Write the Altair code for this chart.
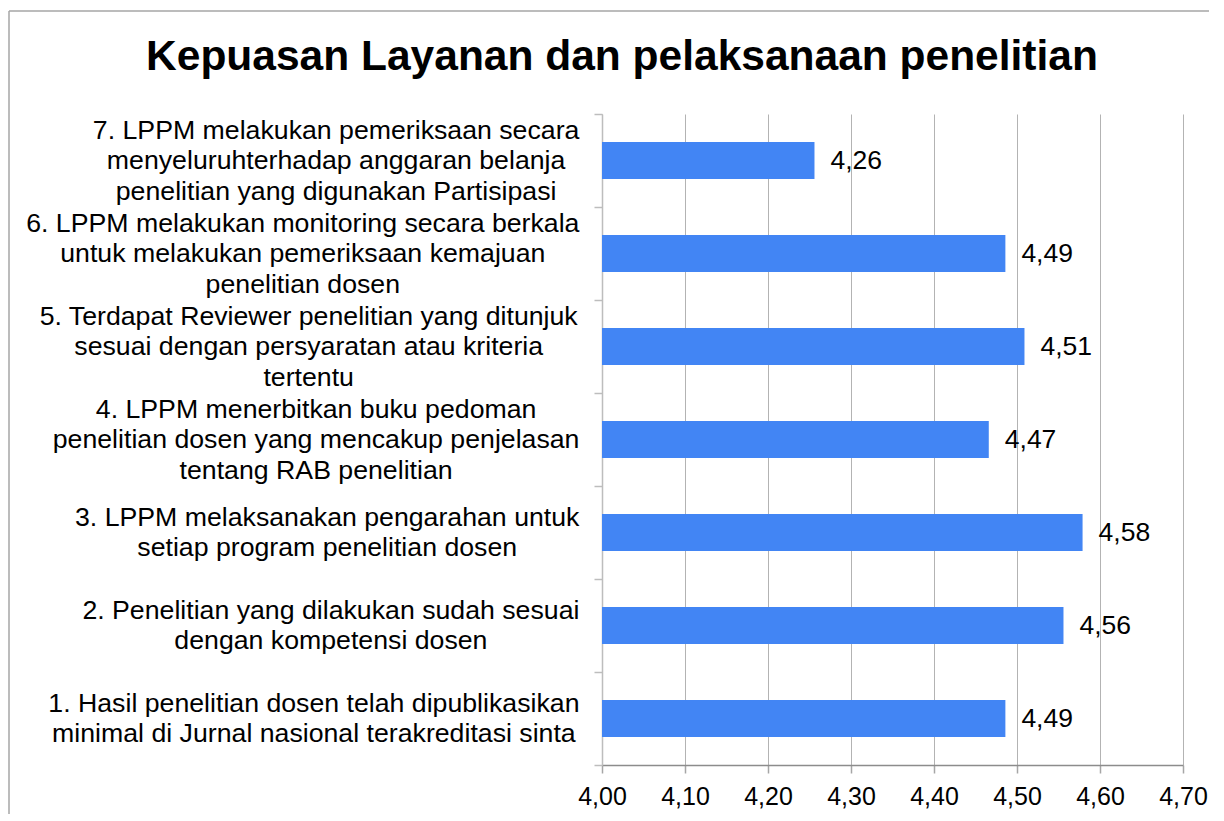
import altair as alt
import pandas as pd

# ---- data ----
label_lines = [
    ["1. Hasil penelitian dosen telah dipublikasikan",
     "minimal di Jurnal nasional terakreditasi sinta"],
    ["2. Penelitian yang dilakukan sudah sesuai",
     "dengan kompetensi dosen"],
    ["3. LPPM melaksanakan pengarahan untuk",
     "setiap program penelitian dosen"],
    ["4. LPPM menerbitkan buku pedoman",
     "penelitian dosen yang mencakup penjelasan",
     "tentang RAB penelitian"],
    ["5. Terdapat Reviewer penelitian yang ditunjuk",
     "sesuai dengan persyaratan atau kriteria",
     "tertentu"],
    ["6. LPPM melakukan monitoring secara berkala",
     "untuk melakukan pemeriksaan kemajuan",
     "penelitian dosen"],
    ["7. LPPM melakukan pemeriksaan secara",
     "menyeluruhterhadap anggaran belanja",
     "penelitian yang digunakan Partisipasi"],
]
# bar lengths (labels show them rounded to 2 decimals)
values = [4.486, 4.556, 4.579, 4.466, 4.509, 4.486, 4.256]
x_ticks = [4.0, 4.1, 4.2, 4.3, 4.4, 4.5, 4.6, 4.7]
title_text = "Kepuasan Layanan dan pelaksanaan penelitian"

categories = ["|".join(l) for l in label_lines]
df = pd.DataFrame({"kategori": categories, "nilai": values})

# ---- styling helpers: label blocks are right-aligned, lines centred ----
FONT = "Liberation Sans"
LBL_SIZE = 26.7
LINE_H = 30.5
_w = {' ': 278, '.': 278, ',': 278}
_w.update({d: 556 for d in "0123456789"})
_w.update(dict(zip("ABCDEFGHIJKLMNOPQRSTUVWXYZ",
                   [667, 667, 722, 722, 667, 611, 778, 722, 278, 500, 667, 556, 833,
                    722, 778, 667, 778, 722, 667, 611, 722, 667, 944, 667, 667, 611])))
_w.update(dict(zip("abcdefghijklmnopqrstuvwxyz",
                   [556, 556, 500, 556, 556, 278, 556, 556, 222, 222, 500, 222, 833,
                    556, 556, 556, 556, 333, 500, 278, 556, 500, 722, 500, 500, 500])))


def text_w(s, size):
    return sum(_w.get(c, 556) for c in s) * size / 1000.0


GAP = 15  # gap between label block and tick
pad_expr = ""
for cat, lines in zip(categories, label_lines):
    half = max(text_w(l, LBL_SIZE) for l in lines) / 2.0
    pad_expr += f"datum.value === '{cat}' ? {GAP + half:.1f} : "
pad_expr += "280"
# centre multi-line label blocks vertically on the band
off_expr = f"-(length(split(datum.value, '|')) - 1) * {LINE_H / 2}"

order = list(reversed(categories))

base = alt.Chart(df)

bars = base.mark_bar(color="#4285F4", size=37).encode(
    y=alt.Y("kategori:N", sort=order,
            scale=alt.Scale(paddingInner=0, paddingOuter=0),
            axis=alt.Axis(title=None, grid=False, tickBand="extent",
                          labelExpr="split(datum.label, '|')",
                          labelAlign="center", labelBaseline="middle",
                          labelPadding=alt.ExprRef(expr=pad_expr),
                          labelOffset=alt.ExprRef(expr=off_expr),
                          labelLimit=800, labelOverlap=False,
                          labelFont=FONT, labelFontSize=LBL_SIZE,
                          labelLineHeight=LINE_H, labelColor="#000000",
                          domainColor="#bdbdbd", domainWidth=1.5,
                          tickColor="#bdbdbd", tickWidth=1.5, tickSize=8)),
    x=alt.X("nilai:Q",
            scale=alt.Scale(domain=[x_ticks[0], x_ticks[-1]], nice=False, zero=False),
            axis=alt.Axis(title=None, values=x_ticks, grid=True,
                          gridColor="#b3b3b3", gridWidth=1,
                          labelExpr="replace(format(datum.value, '.2f'), '.', ',')",
                          labelFont=FONT, labelFontSize=25, labelColor="#000000",
                          labelFlush=False, labelOverlap=False, labelPadding=11,
                          domainColor="#8c8c8c", domainWidth=1.5,
                          tickColor="#a6a6a6", tickWidth=1.5, tickSize=8)),
    x2=alt.datum(x_ticks[0]),
)

text = base.transform_calculate(
    lbl="replace(format(datum.nilai, '.2f'), '.', ',')"
).mark_text(align="left", baseline="middle", dx=16, font=FONT,
            fontSize=26.5, color="#000000").encode(
    y=alt.Y("kategori:N", sort=order),
    x=alt.X("nilai:Q"),
    text="lbl:N",
)

frame_df = pd.DataFrame({"f": [0]})
frame_top = alt.Chart(frame_df).mark_rule(color="#a6a6a6", strokeWidth=1.5).encode(
    x=alt.value(-593), x2=alt.value(607), y=alt.value(-103))
frame_left = alt.Chart(frame_df).mark_rule(color="#a6a6a6", strokeWidth=1.5).encode(
    x=alt.value(-593), y=alt.value(-103), y2=alt.value(700))

chart = alt.layer(frame_top, frame_left, bars, text).properties(
    width=581, height=651,
    title=alt.TitleParams(title_text, font=FONT, fontSize=42.5, fontWeight="bold",
                          color="#000000", anchor="middle", frame="bounds",
                          offset=-68, dx=13),
    padding={"left": 0, "top": 2, "right": 4, "bottom": 0},
).configure_view(stroke=None)

chart.save("out.html", embed_options={"renderer": "svg", "actions": False})
